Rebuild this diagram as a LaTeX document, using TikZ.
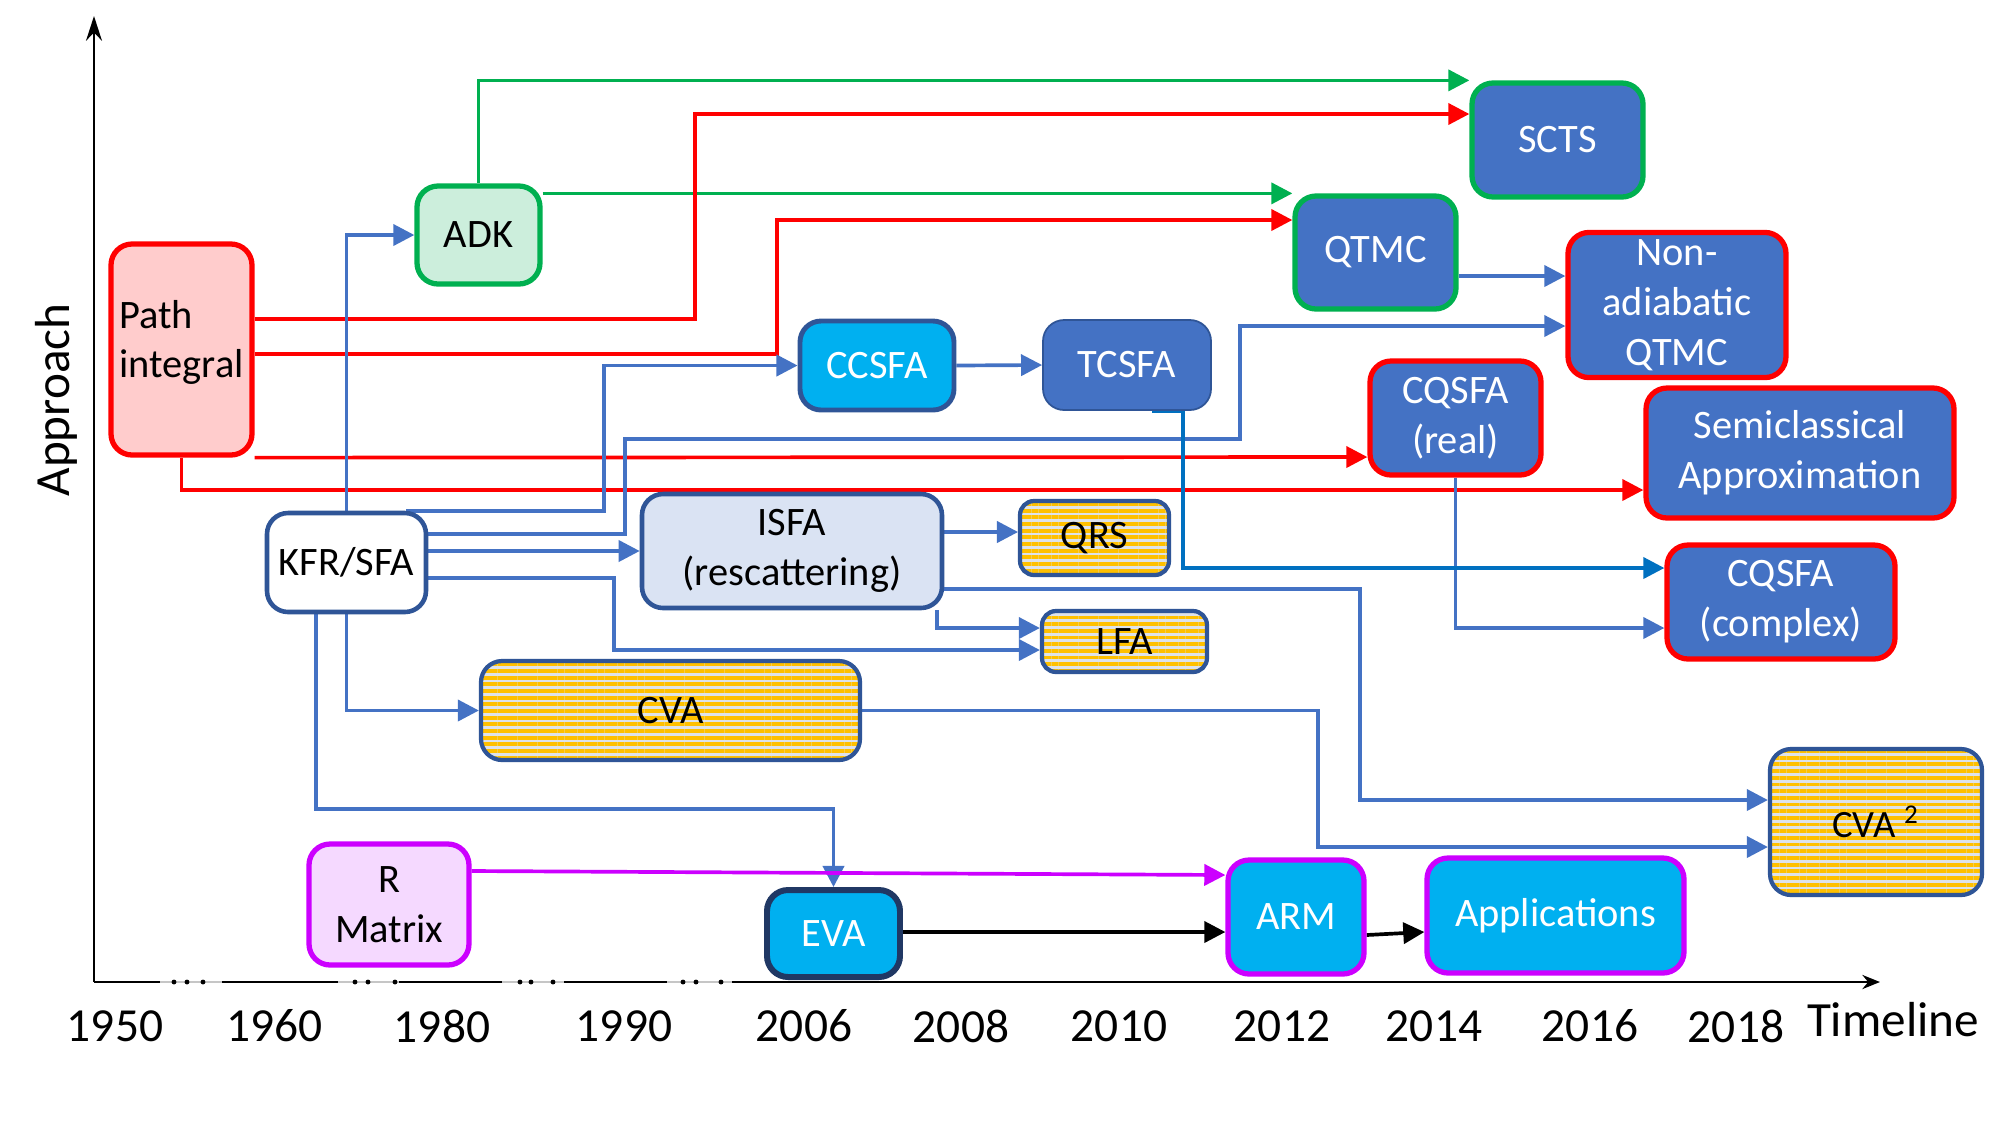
\documentclass[tikz,border=0pt]{standalone}
\usepackage{fontspec}
\setmainfont{Carlito}
\usepackage{xcolor}
\usepackage{tikz}
\usetikzlibrary{calc,arrows.meta,backgrounds,patterns.meta}
\definecolor{redline}{HTML}{FF0000}
\definecolor{greenline}{HTML}{00B050}
\definecolor{blueline}{HTML}{4472C4}
\definecolor{tcline}{HTML}{0070C0}
\definecolor{magline}{HTML}{CC00FF}
\definecolor{darkblue}{HTML}{2F5597}
\definecolor{navy}{HTML}{203864}
\definecolor{boxblue}{HTML}{4472C4}
\definecolor{skyfill}{HTML}{00B0F0}
\definecolor{pinkfill}{HTML}{FFCCCC}
\definecolor{mintfill}{HTML}{CCEEDC}
\definecolor{lilacfill}{HTML}{F5D9FF}
\definecolor{isfafill}{HTML}{DAE3F3}
\definecolor{stripeyellow}{HTML}{FFC000}
\definecolor{stripegrey}{HTML}{DDE2EA}

\begin{document}
\begin{tikzpicture}[
  methodbox/.style={
    rectangle, rounded corners=6pt, align=center,
    inner sep=2pt, text=black,
    font=\fontsize{11.5}{14.2}\selectfont,
  },
  bluebox/.style={methodbox, fill=boxblue, text=white},
  skybox/.style={methodbox, fill=skyfill, text=white},
  stripebox/.style={methodbox, draw=darkblue, line width=1.2pt,
    preaction={fill=stripegrey},
    pattern={Lines[angle=0, distance=1.9pt, line width=1.1pt]},
    pattern color=stripeyellow},
  flow/.style={line width=1.05pt, -{Triangle[length=6pt, width=6pt]}},
  yearlabel/.style={font=\fontsize{13.5}{16}\selectfont},
  axisline/.style={line width=0.8pt},
]

\useasboundingbox (0,0) rectangle (20,-11.25);

\node[methodbox, fill=pinkfill, draw=redline, line width=1.5pt, align=left, text depth=6pt,
  minimum width=1.41cm, minimum height=2.11cm] (pint) at (1.815,-3.495) {Path\\integral};
\node[methodbox, fill=mintfill, draw=greenline, line width=1.5pt,
  minimum width=1.23cm, minimum height=0.98cm] (adk) at (4.785,-2.35) {ADK};
\node[bluebox, draw=greenline, line width=1.5pt,
  minimum width=1.71cm, minimum height=1.14cm] (scts) at (15.575,-1.40) {SCTS};
\node[bluebox, draw=greenline, line width=1.5pt,
  minimum width=1.61cm, minimum height=1.13cm] (qtmc) at (13.755,-2.525) {QTMC};
\node[bluebox, draw=redline, line width=1.5pt,
  minimum width=2.18cm, minimum height=1.40cm] (nonad) at (16.77,-3.05) {Non-\\adiabatic\\QTMC};
\node[skybox, draw=darkblue, line width=1.4pt,
  minimum width=1.54cm, minimum height=0.89cm] (ccsfa) at (8.77,-3.655) {CCSFA};
\node[bluebox, draw=darkblue, line width=0.5pt,
  minimum width=1.68cm, minimum height=0.90cm] (tcsfa) at (11.27,-3.65) {TCSFA};
\node[bluebox, draw=redline, line width=1.5pt,
  minimum width=1.71cm, minimum height=1.14cm] (creal) at (14.555,-4.18) {CQSFA\\(real)};
\node[bluebox, draw=redline, line width=1.5pt,
  minimum width=3.08cm, minimum height=1.30cm] (semi) at (18.00,-4.53) {Semiclassical\\Approximation};
\node[bluebox, draw=redline, line width=1.5pt,
  minimum width=2.28cm, minimum height=1.14cm] (ccomp) at (17.81,-6.02) {CQSFA\\(complex)};
\node[methodbox, fill=white, draw=darkblue, line width=1.3pt,
  minimum width=1.59cm, minimum height=0.99cm] (kfr) at (3.465,-5.625) {KFR/SFA};
\node[methodbox, fill=isfafill, draw=darkblue, line width=1.3pt,
  minimum width=3.00cm, minimum height=1.14cm] (isfa) at (7.92,-5.51) {ISFA\\(rescattering)};
\node[stripebox, rounded corners=4pt,
  minimum width=1.49cm, minimum height=0.74cm] (qrs) at (10.945,-5.38) {QRS};
\node[stripebox, rounded corners=4pt,
  minimum width=1.65cm, minimum height=0.61cm] (lfa) at (11.245,-6.415) {LFA};
\node[stripebox,
  minimum width=3.79cm, minimum height=0.99cm] (cva) at (6.705,-7.105) {CVA};
\node[stripebox, font=\fontsize{11}{13}\selectfont,
  minimum width=2.12cm, minimum height=1.46cm] (cvasq) at (18.76,-8.22) {CVA \textsuperscript{2}};
\node[methodbox, fill=lilacfill, draw=magline, line width=1.5pt,
  minimum width=1.60cm, minimum height=1.21cm] (rmat) at (3.89,-9.045) {R\\Matrix};
\node[skybox, draw=navy, line width=1.7pt,
  minimum width=1.33cm, minimum height=0.87cm] (eva) at (8.335,-9.335) {EVA};
\node[skybox, draw=magline, line width=1.5pt,
  minimum width=1.36cm, minimum height=1.14cm] (arm) at (12.96,-9.17) {ARM};
\node[skybox, draw=magline, line width=1.5pt,
  minimum width=2.57cm, minimum height=1.15cm] (app) at (15.555,-9.155) {Applications};

\begin{scope}[on background layer]
\fill[white] (0,0) rectangle (20,-11.25);

\draw[flow, greenline] (adk.north) |- (scts.north west);
\draw[flow, greenline] (qtmc.north west -| adk.east) -- (qtmc.north west);

\draw[flow, redline] (pint.east |- 0,-3.19) -| (6.95,-1.14) -- (scts.west |- 0,-1.14);
\draw[flow, redline] (pint.east |- 0,-3.54) -| (7.77,-2.20) -- (qtmc.west |- 0,-2.20);
\draw[flow, redline] (pint.south east) -- (creal.west |- 0,-4.57);
\draw[flow, redline] (pint.south) |- (semi.west |- 0,-4.90);

\draw[flow, blueline] (kfr.north) |- (adk.west);
\draw[flow, blueline] (kfr.north -| 4.06,0) -| (6.04,-3.655) -- (ccsfa.west);
\draw[flow, blueline] (kfr.east |- 0,-5.34) -| (6.25,-4.39) -| (12.40,-3.26) -- (nonad.west |- 0,-3.26);
\draw[flow, blueline] (kfr.east |- isfa.west) -- (isfa.west);
\draw[flow, blueline] (kfr.east |- 0,-5.78) -| (6.14,-6.50) -- (lfa.west |- 0,-6.50);
\draw[flow, blueline] (kfr.south) |- (cva.west);
\draw[flow, blueline] (kfr.south -| 3.16,0) |- (eva.north |- 0,-8.09) -- (eva.north);
\draw[flow, blueline] (isfa.east |- 0,-5.32) -- (qrs.west |- 0,-5.32);
\draw[flow, blueline] (isfa.south east -| 9.37,0) |- (lfa.west |- 0,-6.28);
\draw[flow, blueline] (isfa.east |- 0,-5.89) -| (13.60,-8.00) -- (cvasq.west |- 0,-8.00);
\draw[flow, blueline] (cva.east) -| (13.18,-8.47) -- (cvasq.west |- 0,-8.47);
\draw[flow, blueline] (ccsfa.east) -- (tcsfa.west);
\draw[flow, blueline] (qtmc.east |- 0,-2.76) -- (nonad.west |- 0,-2.76);
\draw[flow, blueline] (creal.south) |- (ccomp.west |- 0,-6.28);
\draw[flow, tcline] (tcsfa.south -| 11.52,0) -| (11.83,-5.68) -- (ccomp.west |- 0,-5.68);

\draw[flow, magline] (rmat.east |- 0,-8.71) -- (arm.west |- 0,-8.75);
\draw[flow, black] (eva.east |- 0,-9.32) -- (arm.west |- 0,-9.32);
\draw[flow, black] (arm.east |- 0,-9.35) -- (app.west |- 0,-9.32);
\end{scope}

\coordinate (orig) at (0.94,-9.82);
\draw[axisline, -{Stealth[length=7pt, width=4.5pt]}] (orig) -- (0.94,-0.16);
\draw[axisline] (orig) -- (1.60,-9.82) (2.22,-9.82) -- (3.38,-9.82)
  (3.99,-9.82) -- (5.02,-9.82) (5.64,-9.82) -- (6.67,-9.82);
\draw[axisline, -{Stealth[length=5pt, width=4pt]}] (7.32,-9.82) -- (18.80,-9.82);
\draw[gray!45, line width=0.3pt] (1.60,-9.82) -- (2.22,-9.82) (3.38,-9.82) -- (3.99,-9.82)
  (5.02,-9.82) -- (5.64,-9.82) (6.67,-9.82) -- (7.32,-9.82);
\foreach \gx in {1.74,1.87,2.03,3.55,3.68,3.95,5.20,5.31,5.53,6.83,6.96,7.21}
  \fill (\gx,-9.82) circle (0.7pt);

\foreach \yr/\xx in {1950/1.15, 1960/2.745, 1980/4.42, 1990/6.24, 2006/8.04, 2008/9.61,
  2010/11.19, 2012/12.82, 2014/14.34, 2016/15.90, 2018/17.36}
  \node[yearlabel] (yr\yr) at (\xx,-10.26) {\yr};
\node[yearlabel, font=\fontsize{14}{16}\selectfont] (timeline) at (18.93,-10.20) {Timeline};
\node[rotate=90, font=\fontsize{14}{16}\selectfont] (approach) at (0.56,-4.00) {Approach};

\end{tikzpicture}
\end{document}
